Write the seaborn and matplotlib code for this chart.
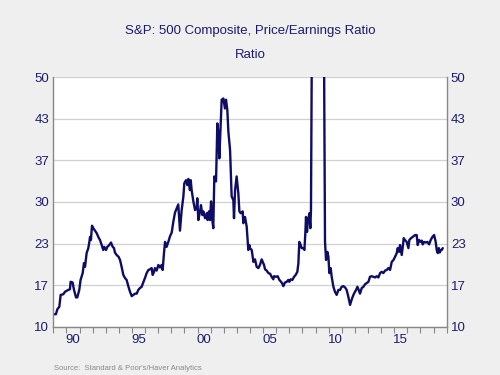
import numpy as np
import pandas as pd
import matplotlib
matplotlib.use("Agg")
import matplotlib.pyplot as plt
import seaborn as sns

# S&P 500 P/E ratio (decimal years)
years = [
    1989.05, 1989.20, 1989.31, 1989.46, 1989.56, 1989.76, 1989.89, 1990.14, 1990.27, 1990.32,
    1990.47, 1990.58, 1990.73, 1990.83, 1990.98, 1991.08, 1991.24, 1991.34, 1991.42, 1991.54,
    1991.67, 1991.75, 1991.80, 1991.87, 1991.95, 1992.05, 1992.18, 1992.31, 1992.43, 1992.56,
    1992.69, 1992.81, 1992.89, 1993.02, 1993.12, 1993.27, 1993.40, 1993.53, 1993.63, 1993.70,
    1993.83, 1993.98, 1994.09, 1994.21, 1994.34, 1994.47, 1994.59, 1994.72, 1994.85, 1994.98,
    1995.10, 1995.23, 1995.36, 1995.48, 1995.61, 1995.74, 1995.86, 1995.99, 1996.12, 1996.25,
    1996.37, 1996.50, 1996.58, 1996.68, 1996.75, 1996.88, 1997.01, 1997.14, 1997.26, 1997.34,
    1997.44, 1997.52, 1997.64, 1997.77, 1997.90, 1998.03, 1998.15, 1998.28, 1998.41, 1998.53,
    1998.61, 1998.66, 1998.79, 1998.92, 1998.99, 1999.12, 1999.22, 1999.30, 1999.42, 1999.48,
    1999.55, 1999.68, 1999.81, 1999.93, 1999.98, 2000.06, 2000.19, 2000.26, 2000.37, 2000.44,
    2000.57, 2000.70, 2000.77, 2000.87, 2000.95, 2001.03, 2001.10, 2001.20, 2001.28, 2001.41,
    2001.51, 2001.59, 2001.66, 2001.76, 2001.84, 2001.97, 2002.09, 2002.17, 2002.27, 2002.35,
    2002.48, 2002.60, 2002.73, 2002.78, 2002.86, 2002.98, 2003.11, 2003.19, 2003.29, 2003.44,
    2003.49, 2003.62, 2003.75, 2003.87, 2003.95, 2004.00, 2004.13, 2004.26, 2004.38, 2004.51,
    2004.64, 2004.76, 2004.89, 2004.97, 2005.07, 2005.15, 2005.27, 2005.40, 2005.53, 2005.65,
    2005.78, 2005.83, 2005.98, 2006.11, 2006.24, 2006.37, 2006.49, 2006.54, 2006.67, 2006.80,
    2006.92, 2007.00, 2007.10, 2007.23, 2007.36, 2007.48, 2007.61, 2007.69, 2007.76, 2007.87,
    2007.94, 2008.07, 2008.15, 2008.22, 2008.27, 2008.35, 2008.40, 2008.48, 2008.53, 2008.60,
    2008.65, 2008.74, 2008.90, 2009.10, 2009.35, 2009.55, 2009.63, 2009.72, 2009.80, 2009.90,
    2009.98, 2010.05, 2010.15, 2010.23, 2010.36, 2010.48, 2010.61, 2010.74, 2010.87, 2010.99,
    2011.12, 2011.25, 2011.37, 2011.50, 2011.63, 2011.70, 2011.83, 2011.93, 2012.09, 2012.19,
    2012.29, 2012.39, 2012.52, 2012.65, 2012.77, 2012.90, 2013.03, 2013.15, 2013.28, 2013.41,
    2013.54, 2013.66, 2013.79, 2013.92, 2014.04, 2014.17, 2014.30, 2014.43, 2014.55, 2014.68,
    2014.81, 2014.94, 2015.06, 2015.19, 2015.26, 2015.37, 2015.44, 2015.57, 2015.65, 2015.72,
    2015.82, 2015.95, 2016.08, 2016.15, 2016.28, 2016.46, 2016.59, 2016.71, 2016.79, 2016.89,
    2017.02, 2017.10, 2017.17, 2017.27, 2017.40, 2017.53, 2017.66, 2017.78, 2017.91, 2018.04,
    2018.16, 2018.24, 2018.32, 2018.40, 2018.47, 2018.54, 2018.62, 2018.70,
]
pe_ratio = [
    12.0, 12.0, 12.8, 13.2, 15.1, 15.2, 15.6, 15.9, 16.0, 17.2,
    17.1, 15.9, 14.7, 14.7, 15.9, 17.5, 18.6, 20.2, 19.6, 21.8,
    22.6, 23.6, 24.4, 23.9, 26.2, 25.8, 25.4, 25.0, 24.4, 23.9,
    23.1, 22.3, 22.8, 22.3, 22.8, 23.1, 23.5, 22.8, 22.6, 21.9,
    21.5, 21.2, 20.7, 19.6, 18.3, 17.8, 17.5, 16.5, 15.6, 14.9,
    15.1, 15.3, 15.3, 15.9, 16.2, 16.4, 17.1, 17.8, 18.6, 19.1,
    19.2, 19.4, 18.3, 18.8, 19.4, 19.0, 19.9, 19.5, 19.9, 19.1,
    21.8, 23.6, 22.8, 23.6, 24.5, 25.1, 26.8, 28.3, 29.0, 29.6,
    27.1, 25.4, 28.7, 30.9, 33.0, 33.5, 32.7, 33.7, 31.9, 33.5,
    31.9, 30.1, 28.7, 29.0, 30.6, 27.1, 28.5, 29.5, 27.9, 28.5,
    27.4, 28.2, 27.1, 28.5, 27.1, 30.1, 27.6, 25.8, 34.1, 33.3,
    42.6, 41.0, 37.0, 42.1, 46.4, 46.6, 45.0, 46.4, 44.8, 41.3,
    38.3, 30.9, 30.3, 27.4, 31.9, 34.1, 31.4, 28.5, 28.2, 28.5,
    26.6, 27.6, 26.0, 22.3, 23.1, 22.6, 22.3, 20.4, 20.8, 19.6,
    19.4, 19.9, 20.8, 20.4, 19.9, 19.2, 19.0, 18.6, 18.5, 18.0,
    17.6, 18.1, 18.0, 18.1, 17.5, 17.2, 16.8, 16.5, 17.1, 17.2,
    17.5, 17.2, 17.6, 17.5, 18.0, 18.3, 18.8, 20.2, 23.6, 23.1,
    22.6, 22.6, 22.3, 25.0, 27.6, 25.2, 26.8, 27.6, 28.2, 25.8,
    28.7, 65.0, 90.0, 120.0, 115.0, 80.0, 60.0, 23.6, 20.7, 22.0,
    21.2, 18.6, 19.4, 18.0, 16.4, 15.6, 15.1, 15.9, 15.9, 16.4,
    16.5, 16.3, 15.9, 14.8, 13.5, 14.0, 14.8, 15.3, 15.9, 16.4,
    15.9, 15.3, 16.2, 16.4, 16.8, 17.0, 17.2, 18.0, 18.1, 18.0,
    17.9, 18.1, 17.9, 18.6, 18.8, 18.6, 19.0, 19.1, 19.4, 19.1,
    20.4, 20.7, 21.2, 21.8, 22.6, 22.0, 23.1, 21.5, 22.8, 24.2,
    23.9, 23.6, 22.6, 23.9, 24.2, 24.5, 24.7, 24.7, 23.1, 23.9,
    23.6, 23.8, 23.2, 23.6, 23.5, 23.6, 23.2, 23.9, 24.4, 24.7,
    23.6, 22.3, 21.8, 22.6, 21.9, 22.3, 22.3, 22.6,
]
year_labels = ["90", "95", "00", "05", "10", "15"]
label_years = [1990, 1995, 2000, 2005, 2010, 2015]
y_tick_labels = ["10", "17", "23", "30", "37", "43", "50"]

df = pd.DataFrame({"year": years, "pe": pe_ratio})

navy = "#0d0d66"
text_col = "#1c1c6e"

sns.set_style("white")
plt.rcParams['font.family'] = ['Liberation Sans', 'DejaVu Sans']

fig = plt.figure(figsize=(5, 3.75), dpi=100, facecolor="#efefef")
ax = fig.add_axes([0.1066, 0.1288, 0.7868, 0.6651])
ax.set_facecolor("white")

sns.lineplot(data=df, x="year", y="pe", ax=ax, color=navy, linewidth=1.7,
             estimator=None, sort=False)

ax.set_xlim(1989, 2019)
ax.set_ylim(10, 50)
ax.set_yticks(np.linspace(10, 50, 7))
ax.set_yticklabels(y_tick_labels)
ax.yaxis.grid(True, color="#d0d0d0", linewidth=0.9)
ax.tick_params(axis="y", length=0, labelsize=9.5, labelcolor=text_col, pad=3,
               left=True, right=True, labelleft=True, labelright=True)

# year ticks at every year, labels centred in the year
ax.set_xticks(np.arange(1989, 2020))
ax.set_xticklabels([])
ax.set_xticks([y + 0.5 for y in label_years], minor=True)
ax.set_xticklabels(year_labels, minor=True)
ax.tick_params(axis="x", which="major", direction="out", length=4, width=0.8,
               color="#888888", bottom=True)
ax.tick_params(axis="x", which="minor", length=0, labelsize=9.5,
               labelcolor=text_col, pad=5)

ax.set_xlabel("")
ax.set_ylabel("")
for side in ["left", "right", "bottom"]:
    ax.spines[side].set_color("#888888")
    ax.spines[side].set_linewidth(1.0)
ax.spines["top"].set_visible(False)

fig.text(0.5, 0.918, "S&P: 500 Composite, Price/Earnings Ratio", ha="center",
         va="center", fontsize=9.5, color=text_col)
fig.text(0.5, 0.852, "Ratio", ha="center", va="center", fontsize=9.5, color=text_col)
fig.text(0.108, 0.008, "Source:  Standard & Poor's/Haver Analytics", ha="left",
         va="bottom", fontsize=5.5, color="#888888")

fig.savefig("out.png", dpi=100, facecolor=fig.get_facecolor())
